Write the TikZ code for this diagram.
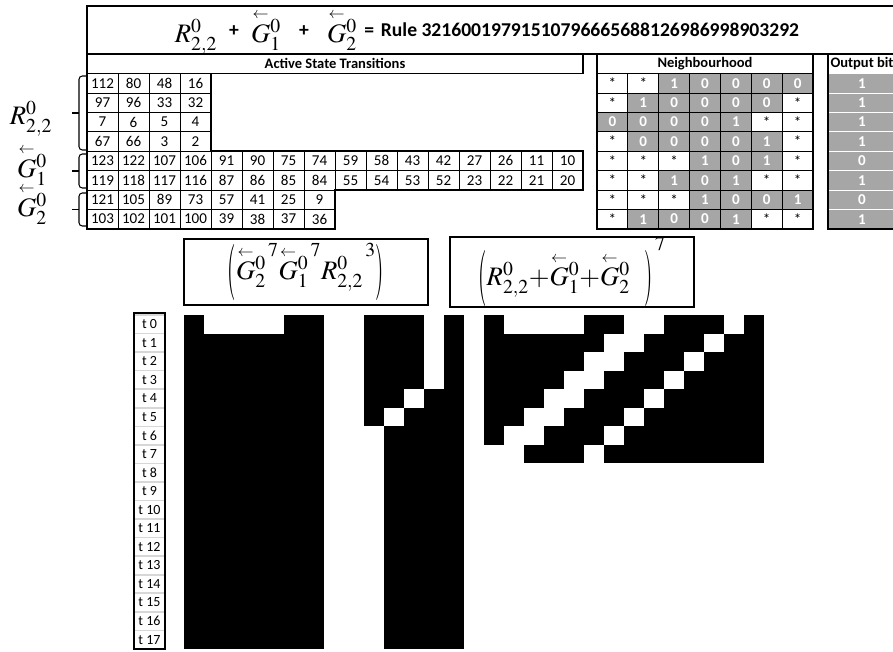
\documentclass[tikz,border=0pt]{standalone}
\usepackage{amsmath}
\usepackage{graphicx}
\usepackage{mathptmx}
\usepackage[no-math]{fontspec}
\setmainfont{Carlito}
\usepackage{tikz}
\definecolor{cellgray}{RGB}{166,166,166}
\definecolor{sepgray}{RGB}{215,215,215}
\newcommand{\pxu}{0.75pt}
\newcommand{\Gback}{\smash{\overset{\scriptscriptstyle\leftarrow}{G}}\vphantom{G}}
\newcommand{\hsup}[1]{^{\,\raisebox{0.3em}{$\scriptstyle#1$}}}
\newcommand{\tallp}[1]{\vcenter{\hbox{\scalebox{0.8}[2.1]{$#1$}}}}

\begin{document}
\begin{tikzpicture}[x=0.75pt,y=-0.75pt,
    frame/.style={draw=black,line width=1.6pt},
    tframe/.style={draw=black,line width=1.3pt},
    big/.style={font=\fontsize{20}{24}\selectfont,inner sep=0pt},
    tbold/.style={font=\fontsize{14.7}{17}\selectfont\bfseries,inner sep=0pt},
    hdr/.style={tframe,inner sep=0pt,minimum height=19.4*\pxu,
                font=\fontsize{10.9}{12}\selectfont\bfseries},
    num/.style={draw=black,line width=0.7pt,inner sep=0pt,
                minimum width=31*\pxu,minimum height=19.4*\pxu,
                font=\fontsize{11.3}{12}\selectfont},
    nbc/.style={num,minimum width=30.86*\pxu},
    nb*/.style={fill=white},
    nb0/.style={fill=cellgray,text=white,
                font=\fontsize{11.3}{12}\selectfont\bfseries},
    nb1/.style={nb0},
    obit/.style={draw=white,line width=0.7pt,fill=cellgray,text=white,
                 inner sep=0pt,minimum width=68*\pxu,minimum height=19.4*\pxu,
                 font=\fontsize{11.3}{12}\selectfont\bfseries},
    tlab/.style={draw=sepgray,line width=1.2pt,inner sep=0pt,
                 minimum width=31*\pxu,minimum height=18.55*\pxu,
                 font=\fontsize{10.5}{12}\selectfont},
    fbox/.style={frame,inner sep=0pt,minimum width=244*\pxu,
                 minimum height=66*\pxu,font=\fontsize{20}{24}\selectfont},
    brace/.style={line width=0.8pt,rounded corners=2.5pt}]
  \useasboundingbox (0,0) rectangle (893,651);
  \clip (0,0) rectangle (893,651);

  % title
  \draw[frame] (87,6) rectangle (905,54);
  \node[big,anchor=base] (ttlR) at (196,42) {$R^0_{2,2}$};
  \node[tbold,anchor=base] (ttlP1) at (234,36) {+};
  \node[big,anchor=base] (ttlG1) at (266,42) {$\Gback^0_1$};
  \node[tbold,anchor=base] (ttlP2) at (304,36) {+};
  \node[big,anchor=base] (ttlG2) at (342,42) {$\Gback^0_2$};
  \node[tbold,anchor=base west] (ttlRule) at (364,36)
    {=\hspace{0.35em}Rule 32160019791510796665688126986998903292};

  % active state transitions
  \node[hdr,minimum width=496*\pxu] (ast) at (335,63.8) {Active State Transitions};
  \foreach \vals [count=\r] in {{112,80,48,16},{97,96,33,32},{7,6,5,4},{67,66,3,2},
      {123,122,107,106,91,90,75,74,59,58,43,42,27,26,11,10},
      {119,118,117,116,87,86,85,84,55,54,53,52,23,22,21,20},
      {121,105,89,73,57,41,25,9},{103,102,101,100,39,38,37,36}}
    \foreach \v [count=\c] in \vals
      \node[num] (tr\r-\c) at ({87+31*\c-15.5},{73.6+19.4*\r-9.7}) {\v};
  \draw[tframe] (87,73.6) -- (211,73.6) -- (211,151.2) -- (583,151.2)
    -- (583,190) -- (335,190) -- (335,228.8) -- (87,228.8) -- cycle;

  % row labels
  \node[big,anchor=base] (labR) at (31,124) {$R^0_{2,2}$};
  \node[big,anchor=base] (labG1) at (32,177) {$\Gback^0_1$};
  \node[big,anchor=base] (labG2) at (32,216) {$\Gback^0_2$};
  \draw[brace] (86,76) -- (79,76) -- (79,150) -- (86,150);
  \draw[brace] (86,154) -- (79,154) -- (79,188) -- (86,188);
  \draw[brace] (86,193) -- (79,193) -- (79,226) -- (86,226);
  \draw[line width=0.8pt] (72,113) -- (79,113) (72,171) -- (79,171) (72,209.5) -- (79,209.5);

  % neighbourhood
  \node[hdr,minimum width=216*\pxu] (nbh) at (705,63.8) {Neighbourhood};
  \foreach \vals [count=\r] in {{*,*,1,0,0,0,0},{*,1,0,0,0,0,*},{0,0,0,0,1,*,*},
      {*,0,0,0,0,1,*},{*,*,*,1,0,1,*},{*,*,1,0,1,*,*},{*,*,*,1,0,0,1},{*,1,0,0,1,*,*}}
    \foreach \v [count=\c] in \vals
      \node[nbc,nb\v] (nb\r-\c) at ({597+30.86*\c-15.43},{73.6+19.4*\r-9.7}) {\v};
  \draw[tframe] (597,54) rectangle (813,228.8);

  % output bits
  \node[hdr,draw=none,minimum width=68*\pxu] (outh) at (862,63.8) {Output bit};
  \foreach \b [count=\r] in {1,1,1,1,0,1,0,1}
    \node[obit] (out\r) at (862,{73.6+19.4*\r-9.7}) {\b};
  \draw[tframe] (828,54) rectangle (896,228.8);

  % formulas
  \node[fbox] (powA) at (306,272)
    {$\mathopen{\tallp{(}}{\Gback^0_2}\hsup{7}{\Gback^0_1}\hsup{7}{R^0_{2,2}}\hsup{3}\mathclose{\tallp{)}}$};
  \node[fbox] (powB) at (572,272)
    {$\mathopen{\tallp{(}}R^0_{2,2}{+}\Gback^0_1{+}\Gback^0_2\hspace{0.55em}\mathclose{\tallp{)}}\hsup{7}$};

  % time steps
  \foreach \t in {0,...,17}
    \node[tlab] (t\t) at (149.5,{315+18.55*\t+9.275}) {t \t};
  \draw[line width=1.2pt] (134,313) rectangle (165,649);

  % evolution, left
  \fill (184,315) rectangle (464,649);
  \foreach \cols [count=\r from 0] in {{1,2,3,4,7,8,12},{7,8,12},{7,8,12},{7,8,12},
      {7,8,11},{7,8,10}}
    \foreach \c in \cols
      \fill[white] ({184+20*\c},{315+18.55*\r}) rectangle ++(20,18.55);
  \fill[white] (324,{315+18.55*6}) rectangle (384,649);

  % evolution, right
  \fill (484,315) rectangle (764,463.4);
  \foreach \cols [count=\r from 0] in {{1,2,3,4,7,8,12},{6,7,11},{5,6,10},{4,5,9},
      {3,4,8},{2,3,7},{1,2,6},{0,1,5}}
    \foreach \c in \cols
      \fill[white] ({484+20*\c},{315+18.55*\r}) rectangle ++(20,18.55);
\end{tikzpicture}
\end{document}
